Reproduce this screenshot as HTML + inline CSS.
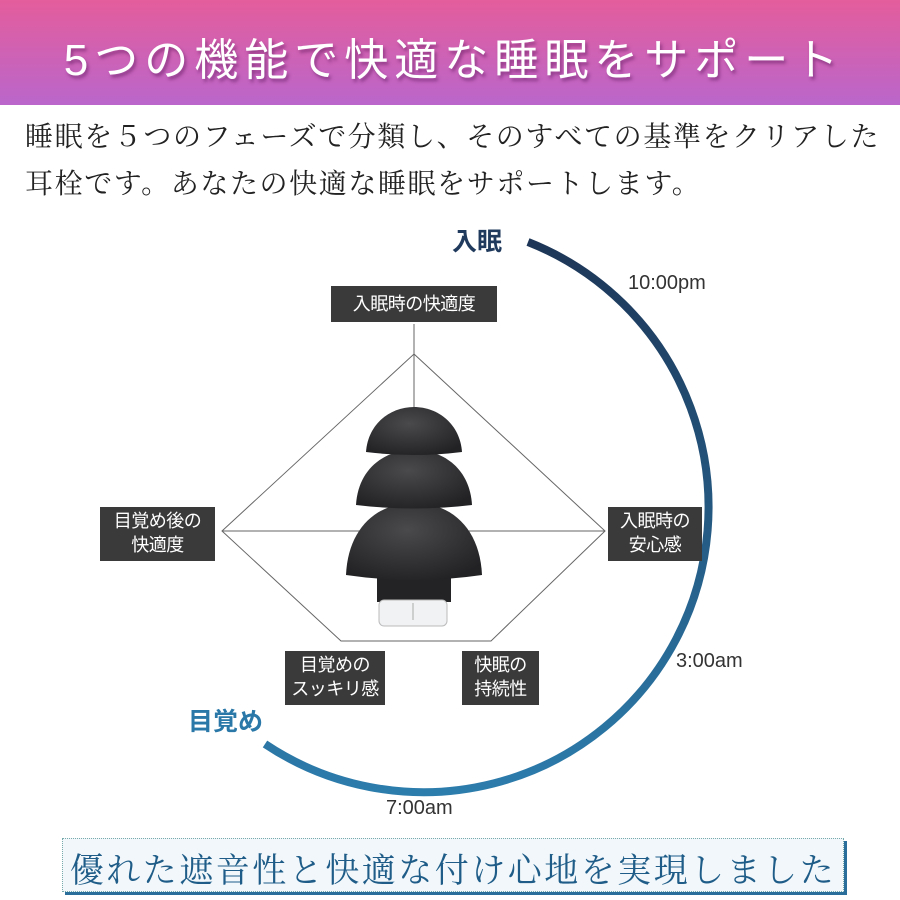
<!DOCTYPE html>
<html><head><meta charset="utf-8"><style>
body{margin:0;width:900px;height:900px;background:#fff;overflow:hidden;position:relative;font-family:"Liberation Sans","Noto Sans CJK JP",sans-serif}
.hdr{position:absolute;left:0;top:0;width:900px;height:105px;background:linear-gradient(#e45d9c,#ba66cb)}
.hdr div{position:absolute;left:4px;width:900px;top:24px;text-align:center;color:#fff;font-size:44px;letter-spacing:6px;text-shadow:2px 3px 3px rgba(90,20,90,.5)}
.p{position:absolute;left:25px;font-family:"Liberation Serif","Noto Serif CJK SC",serif;font-size:28px;color:#222;white-space:nowrap;letter-spacing:1.6px}
.lb{position:absolute;background:#3a3a3a;color:#fff;font-size:18px;line-height:24px;text-align:center;white-space:nowrap;letter-spacing:-0.5px}
.t{position:absolute;font-size:20px;color:#333}
.box{position:absolute;left:62px;top:838px;width:780px;height:52px;background:#f1f7fb;border:1px dotted #7aa;box-shadow:3px 3px 0 #2a6f9c;}
.box div{position:absolute;left:0;width:780px;top:4px;text-align:center;font-family:"Liberation Serif","Noto Serif CJK SC",serif;font-size:34px;color:#1f5d88;letter-spacing:2.5px}
</style></head><body>
<div class="hdr"><div>5つの機能で快適な睡眠をサポート</div></div>
<div class="p" style="top:115px">睡眠を５つのフェーズで分類し、そのすべての基準をクリアした</div>
<div class="p" style="top:162px">耳栓です。あなたの快適な睡眠をサポートします。</div>
<svg width="900" height="900" style="position:absolute;left:0;top:0">
<defs><linearGradient id="g" x1="0" y1="0" x2="0" y2="1"><stop offset="0" stop-color="#1d3657"/><stop offset="1" stop-color="#2c7cac"/></linearGradient>
<radialGradient id="e" cx="0.45" cy="0.35" r="0.7"><stop offset="0" stop-color="#4a4a4c"/><stop offset="1" stop-color="#222225"/></radialGradient></defs>
<path d="M528,242 A285,285 0 1 1 265,744" fill="none" stroke="url(#g)" stroke-width="8"/>
<g stroke="#666" stroke-width="1" fill="none">
<polygon points="414,354 605,531 491,641 341,641 222,531"/>
<line x1="414" y1="324" x2="414" y2="420"/>
<line x1="222" y1="531" x2="605" y2="531"/>
</g>
<g fill="url(#e)">
<rect x="377" y="570" width="74" height="32" fill="#232326"/>
<path d="M346,575 C348,530 375,503 414,503 C453,503 480,530 482,575 Q414,585 346,575Z"/>
<path d="M356,505 C358,470 383,450 414,450 C445,450 470,470 472,505 Q414,512 356,505Z"/>
<path d="M366,452 C368,424 390,407 414,407 C438,407 460,424 462,452 Q414,458 366,452Z"/>
</g>
<rect x="379" y="600" width="68" height="26" rx="5" fill="#f0f2f3" stroke="#bbb"/>
<line x1="413" y1="603" x2="413" y2="620" stroke="#aaa"/>
</svg>
<div class="lb" style="left:331px;top:286px;width:166px;height:36px;line-height:36px">入眠時の快適度</div>
<div class="lb" style="left:100px;top:507px;width:115px;height:52px;padding-top:2px">目覚め後の<br>快適度</div>
<div class="lb" style="left:608px;top:507px;width:94px;height:52px;padding-top:2px">入眠時の<br>安心感</div>
<div class="lb" style="left:285px;top:651px;width:100px;height:52px;padding-top:2px">目覚めの<br>スッキリ感</div>
<div class="lb" style="left:462px;top:651px;width:77px;height:52px;padding-top:2px">快眠の<br>持続性</div>
<div class="t" style="left:452px;top:222px;font-size:25px;font-weight:bold;color:#1f3a5c">入眠</div>
<div class="t" style="left:188px;top:702px;font-size:25px;font-weight:bold;color:#2a78a8">目覚め</div>
<div class="t" style="left:628px;top:272px">10:00pm</div>
<div class="t" style="left:676px;top:650px">3:00am</div>
<div class="t" style="left:386px;top:797px">7:00am</div>
<div class="box"><div>優れた遮音性と快適な付け心地を実現しました</div></div>
</body></html>
